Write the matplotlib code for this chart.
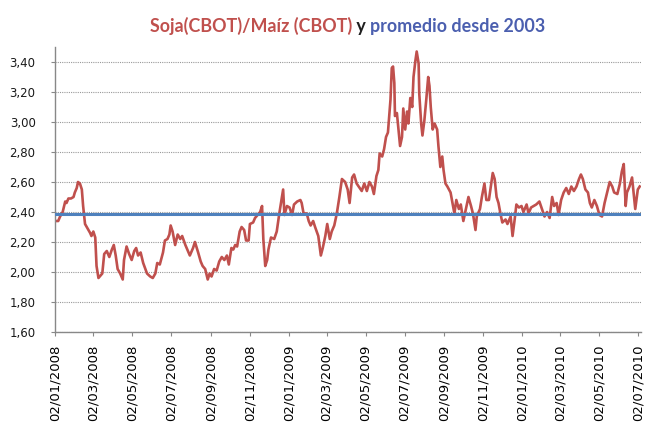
import pandas as pd
import matplotlib
matplotlib.use('Agg')
import matplotlib.pyplot as plt

# days since 02/01/2008 and soy/corn price ratio
start = pd.Timestamp('2008-01-02')
days = [
    2, 5, 8, 12, 16, 18, 21, 25, 29, 31,
    34, 36, 39, 42, 44, 47, 51, 55, 57, 60,
    63, 65, 68, 70, 74, 77, 81, 85, 89, 92,
    95, 98, 102, 106, 108, 112, 116, 120, 124, 127,
    130, 134, 138, 144, 149, 153, 157, 160, 164, 169,
    172, 176, 179, 181, 184, 188, 192, 196, 199, 204,
    207, 211, 216, 219, 224, 228, 231, 235, 239, 242,
    245, 249, 253, 257, 261, 265, 269, 272, 276, 279,
    282, 285, 289, 292, 296, 299, 303, 305, 310, 313,
    317, 321, 324, 326, 329, 332, 334, 338, 343, 347,
    351, 357, 359, 363, 367, 371, 374, 379, 384, 386,
    389, 394, 397, 400, 404, 407, 412, 416, 419, 423,
    426, 430, 433, 437, 441, 445, 449, 454, 458, 461,
    465, 468, 472, 480, 484, 488, 492, 496, 499, 503,
    506, 508, 512, 515, 518, 521, 525, 527, 529, 531,
    532, 535, 538, 540, 543, 545, 548, 551, 553, 556,
    559, 561, 564, 566, 569, 570, 573, 575, 578, 581,
    584, 586, 588, 591, 594, 598, 600, 603, 606, 608,
    611, 614, 619, 622, 625, 628, 632, 635, 639, 644,
    647, 651, 654, 658, 660, 665, 668, 672, 675, 679,
    682, 685, 688, 691, 694, 697, 700, 705, 708, 713,
    716, 719, 722, 726, 730, 733, 738, 741, 745, 749,
    753, 758, 762, 766, 770, 774, 778, 781, 785, 788,
    792, 796, 800, 804, 808, 812, 816, 820, 823, 826,
    830, 834, 837, 840, 844, 848, 852, 856, 860, 864,
    868, 872, 875, 880, 884, 887, 890, 893, 895, 899,
    903, 906, 908, 912, 915,
]
ratio = [
    2.34, 2.34, 2.37, 2.40, 2.47, 2.46, 2.49, 2.49, 2.50, 2.53,
    2.56, 2.60, 2.59, 2.55, 2.44, 2.32, 2.29, 2.26, 2.24, 2.27,
    2.23, 2.04, 1.96, 1.97, 1.99, 2.12, 2.14, 2.10, 2.15, 2.18,
    2.11, 2.02, 1.99, 1.95, 2.08, 2.17, 2.12, 2.08, 2.14, 2.16,
    2.11, 2.13, 2.06, 1.99, 1.97, 1.96, 1.99, 2.06, 2.05, 2.13,
    2.21, 2.22, 2.25, 2.31, 2.27, 2.18, 2.25, 2.22, 2.24, 2.18,
    2.15, 2.11, 2.16, 2.20, 2.13, 2.07, 2.04, 2.02, 1.95, 1.99,
    1.97, 2.02, 2.01, 2.07, 2.10, 2.08, 2.11, 2.05, 2.16, 2.15,
    2.18, 2.17, 2.27, 2.30, 2.28, 2.21, 2.21, 2.32, 2.33, 2.36,
    2.38, 2.40, 2.44, 2.22, 2.04, 2.08, 2.15, 2.23, 2.22, 2.27,
    2.39, 2.55, 2.38, 2.44, 2.43, 2.38, 2.45, 2.47, 2.48, 2.46,
    2.39, 2.39, 2.34, 2.31, 2.34, 2.30, 2.24, 2.11, 2.16, 2.24,
    2.32, 2.22, 2.27, 2.31, 2.39, 2.50, 2.62, 2.60, 2.55, 2.46,
    2.63, 2.65, 2.59, 2.54, 2.59, 2.54, 2.60, 2.57, 2.52, 2.64,
    2.68, 2.79, 2.77, 2.82, 2.90, 2.93, 3.15, 3.36, 3.37, 3.26,
    3.04, 3.06, 2.93, 2.84, 2.90, 3.09, 2.95, 3.07, 2.99, 3.16,
    3.10, 3.30, 3.41, 3.47, 3.39, 3.19, 2.99, 2.91, 3.01, 3.15,
    3.30, 3.24, 3.10, 2.95, 2.99, 2.95, 2.84, 2.70, 2.77, 2.68,
    2.59, 2.57, 2.53, 2.46, 2.39, 2.48, 2.42, 2.45, 2.34, 2.44,
    2.50, 2.44, 2.39, 2.28, 2.37, 2.42, 2.50, 2.59, 2.48, 2.48,
    2.57, 2.66, 2.62, 2.50, 2.46, 2.39, 2.33, 2.35, 2.32, 2.37,
    2.24, 2.34, 2.45, 2.43, 2.44, 2.40, 2.45, 2.39, 2.43, 2.44,
    2.45, 2.47, 2.42, 2.37, 2.40, 2.36, 2.50, 2.44, 2.46, 2.38,
    2.48, 2.53, 2.56, 2.52, 2.57, 2.54, 2.57, 2.62, 2.65, 2.62,
    2.55, 2.53, 2.46, 2.43, 2.48, 2.44, 2.38, 2.37, 2.46, 2.53,
    2.60, 2.57, 2.53, 2.52, 2.59, 2.67, 2.72, 2.44, 2.53, 2.57,
    2.63, 2.50, 2.42, 2.55, 2.57,
]
promedio = 2.39

tick_labels = [
    '02/01/2008', '02/03/2008', '02/05/2008', '02/07/2008', '02/09/2008',
    '02/11/2008', '02/01/2009', '02/03/2009', '02/05/2009', '02/07/2009',
    '02/09/2009', '02/11/2009', '02/01/2010', '02/03/2010', '02/05/2010',
    '02/07/2010',
]
y_ticks = [1.6, 1.8, 2.0, 2.2, 2.4, 2.6, 2.8, 3.0, 3.2, 3.4]

tick_days = [(pd.to_datetime(t, format='%d/%m/%Y') - start).days for t in tick_labels]

fig = plt.figure(figsize=(6.45, 4.22), dpi=100)
fig.patch.set_facecolor('white')
ax = fig.add_axes([55 / 645, 90 / 422, 586 / 645, 285 / 422])

ax.plot(days, ratio, color='#C0504D', linewidth=1.9, zorder=2)
ax.axhline(promedio, color='#4F81BD', linewidth=2.2, zorder=3)

ax.set_xlim(0, 917)
ax.set_ylim(1.6, 3.5)

# grid
ax.set_yticks(y_ticks)
ax.set_yticklabels([f'{v:.2f}'.replace('.', ',') for v in y_ticks],
                   fontsize=8.5, color='#1a1a1a')
ax.yaxis.grid(True, linestyle=(0, (1, 1)), color='#9a9a9a', linewidth=0.8)
ax.set_axisbelow(True)

ax.set_xticks(tick_days)
ax.set_xticklabels(tick_labels, rotation=90, fontsize=9.5, va='top')

ax.tick_params(axis='y', direction='out', length=3, color='#888888', pad=11)
ax.tick_params(axis='x', direction='out', length=3, color='#888888', pad=6)

for side in ['top', 'right']:
    ax.spines[side].set_visible(False)
for side in ['left', 'bottom']:
    ax.spines[side].set_color('#888888')
    ax.spines[side].set_linewidth(1)

# title in three colours
title_size = 12.9
t1 = fig.text(150 / 645, 1 - 32 / 422, 'Soja(CBOT)/Maíz (CBOT)', color='#C0504D',
              fontsize=title_size, fontweight='bold', family='Lato', ha='left', va='baseline')
t2 = ax.annotate(' y ', xy=(1, 0), xycoords=t1, color='#1f1f1f',
                 fontsize=title_size, fontweight='bold', family='Lato', ha='left', va='bottom',
                 annotation_clip=False)
t3 = ax.annotate('promedio desde 2003', xy=(1, 0), xycoords=t2, color='#4B5FAF',
                 fontsize=title_size, fontweight='bold', family='Lato', ha='left', va='bottom',
                 annotation_clip=False)

fig.savefig('out.png', dpi=100, facecolor='white')
plt.close(fig)
